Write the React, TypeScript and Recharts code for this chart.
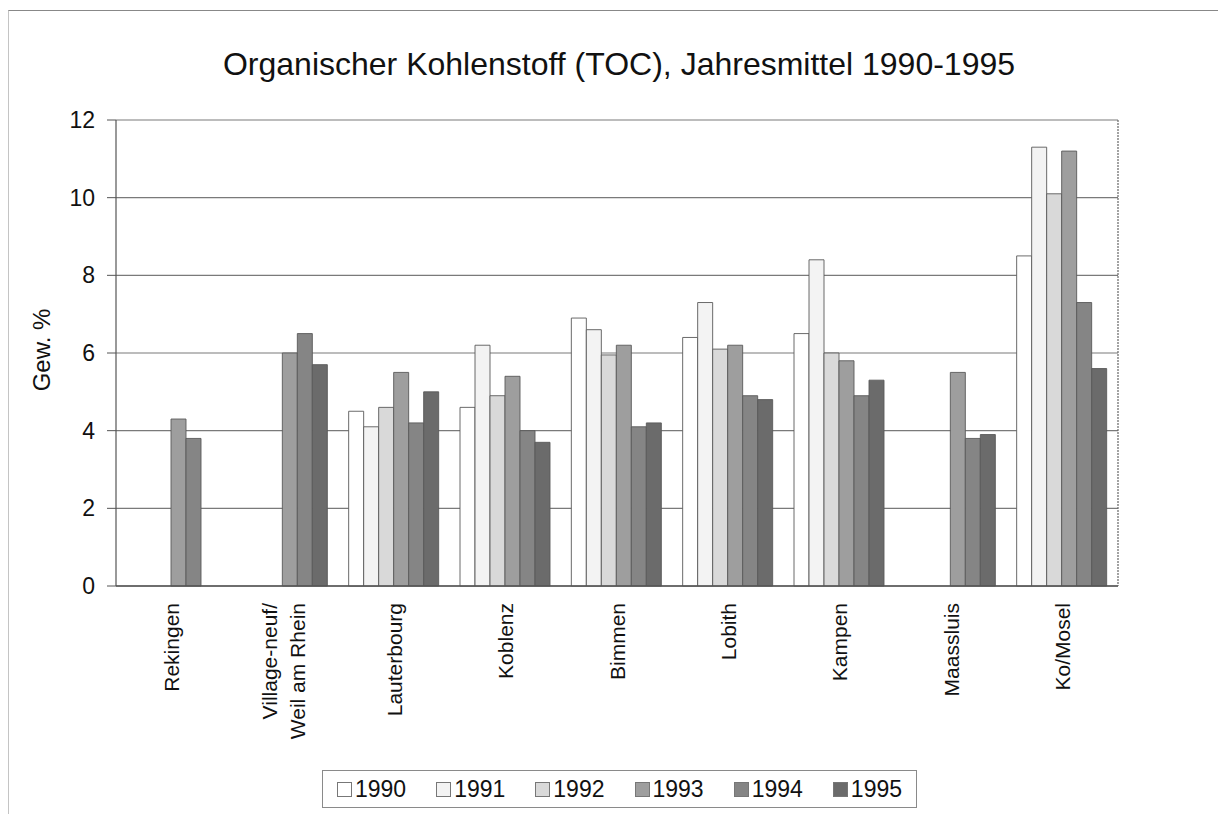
import React from "react";
import { Bar, BarChart, CartesianGrid, XAxis, YAxis } from "recharts";

const FONT = "'Liberation Sans', Arial, Helvetica, sans-serif";
const INK = "#111";
const GRID = "#7a7a7a";

const SITES = [
  "Rekingen",
  "Village-neuf/\nWeil am Rhein",
  "Lauterbourg",
  "Koblenz",
  "Bimmen",
  "Lobith",
  "Kampen",
  "Maassluis",
  "Ko/Mosel",
];
const YEARS = ["1990", "1991", "1992", "1993", "1994", "1995"];
const TOC_1990 = [null, null, 4.5, 4.6, 6.9, 6.4, 6.5, null, 8.5];
const TOC_1991 = [null, null, 4.1, 6.2, 6.6, 7.3, 8.4, null, 11.3];
const TOC_1992 = [null, null, 4.6, 4.9, 5.95, 6.1, 6.0, null, 10.1];
const TOC_1993 = [4.3, 6.0, 5.5, 5.4, 6.2, 6.2, 5.8, 5.5, 11.2];
const TOC_1994 = [3.8, 6.5, 4.2, 4.0, 4.1, 4.9, 4.9, 3.8, 7.3];
const TOC_1995 = [null, 5.7, 5.0, 3.7, 4.2, 4.8, 5.3, 3.9, 5.6];
const Y_TICKS = [0, 2, 4, 6, 8, 10, 12];

const SERIES = [TOC_1990, TOC_1991, TOC_1992, TOC_1993, TOC_1994, TOC_1995];
const FILLS = ["#ffffff", "#f3f3f3", "#d9d9d9", "#9e9e9e", "#858585", "#6b6b6b"];

const data = SITES.map((site, i) => {
  const row: Record<string, any> = { site };
  YEARS.forEach((y, k) => (row[y] = SERIES[k][i]));
  return row;
});

function SiteTick({ x, payload }: any) {
  const lines = String(payload.value).split("\n");
  const lh = 28;
  const first = -((lines.length - 1) * lh) / 2 + 7.5;
  return (
    <g transform={`translate(${x},603)`}>
      <text transform="rotate(-90)" textAnchor="end" fontSize={21} fontFamily={FONT} fill={INK}>
        {lines.map((l, i) => (
          <tspan key={i} x={0} y={first + i * lh}>
            {l}
          </tspan>
        ))}
      </text>
    </g>
  );
}

function LegendBox() {
  return (
    <div
      style={{
        position: "absolute",
        left: 322,
        top: 770,
        width: 595,
        height: 38,
        boxSizing: "border-box",
        border: "1.5px solid #8a8a8a",
        display: "flex",
        alignItems: "center",
        justifyContent: "center",
        gap: 30,
        fontFamily: FONT,
        fontSize: 23,
        color: INK,
      }}
    >
      {YEARS.map((y, i) => (
        <div key={y} style={{ display: "flex", alignItems: "center", gap: 3 }}>
          <span
            style={{
              display: "inline-block",
              width: 13,
              height: 13,
              background: FILLS[i],
              border: "1px solid #777",
            }}
          />
          {y}
        </div>
      ))}
    </div>
  );
}

export default function App() {
  return (
    <div style={{ position: "absolute", left: 0, top: 0, width: 1218, height: 814, background: "#fff" }}>
      <div
        style={{
          position: "absolute",
          left: 8,
          top: 10,
          width: 1210,
          height: 804,
          boxSizing: "border-box",
          borderTop: "1.5px solid #888",
          borderLeft: "1px solid #c4c4c4",
        }}
      />
      <div
        style={{
          position: "absolute",
          left: 0,
          width: 1238,
          top: 48,
          textAlign: "center",
          fontFamily: FONT,
          fontSize: 32,
          lineHeight: "32px",
          color: INK,
          whiteSpace: "nowrap",
        }}
      >
        Organischer Kohlenstoff (TOC), Jahresmittel 1990-1995
      </div>
      <div
        style={{
          position: "absolute",
          left: 42,
          top: 350,
          transform: "translate(-50%,-50%) rotate(-90deg)",
          fontFamily: FONT,
          fontSize: 24,
          color: INK,
          whiteSpace: "nowrap",
        }}
      >
        Gew. %
      </div>
      <div style={{ position: "absolute", left: 0, top: 0 }}>
        <BarChart
          width={1218}
          height={814}
          data={data}
          margin={{ top: 120, right: 98, bottom: 28, left: 36 }}
          barCategoryGap={10}
          barGap={0}
        >
          <CartesianGrid stroke={GRID} strokeWidth={1.2} vertical={false} />
          <XAxis
            dataKey="site"
            height={200}
            interval={0}
            tickLine={false}
            axisLine={{ stroke: "#555", strokeWidth: 1.5 }}
            tick={<SiteTick />}
          />
          <YAxis
            width={80}
            domain={[0, 12]}
            ticks={Y_TICKS}
            interval={0}
            tickSize={9}
            tickMargin={12}
            tickLine={{ stroke: "#555" }}
            axisLine={{ stroke: "#555", strokeWidth: 1.2 }}
            tick={{ fontSize: 23, fill: INK, fontFamily: FONT }}
          />
          <YAxis
            yAxisId="right"
            orientation="right"
            width={2}
            domain={[0, 12]}
            ticks={Y_TICKS}
            tick={false}
            tickLine={false}
            axisLine={{ stroke: "#666", strokeWidth: 1.2, strokeDasharray: "2 1" }}
          />
          {YEARS.map((y, i) => (
            <Bar
              key={y}
              dataKey={y}
              fill={FILLS[i]}
              stroke="#5a5a5a"
              strokeWidth={0.9}
              isAnimationActive={false}
            />
          ))}
        </BarChart>
      </div>
      <LegendBox />
    </div>
  );
}
